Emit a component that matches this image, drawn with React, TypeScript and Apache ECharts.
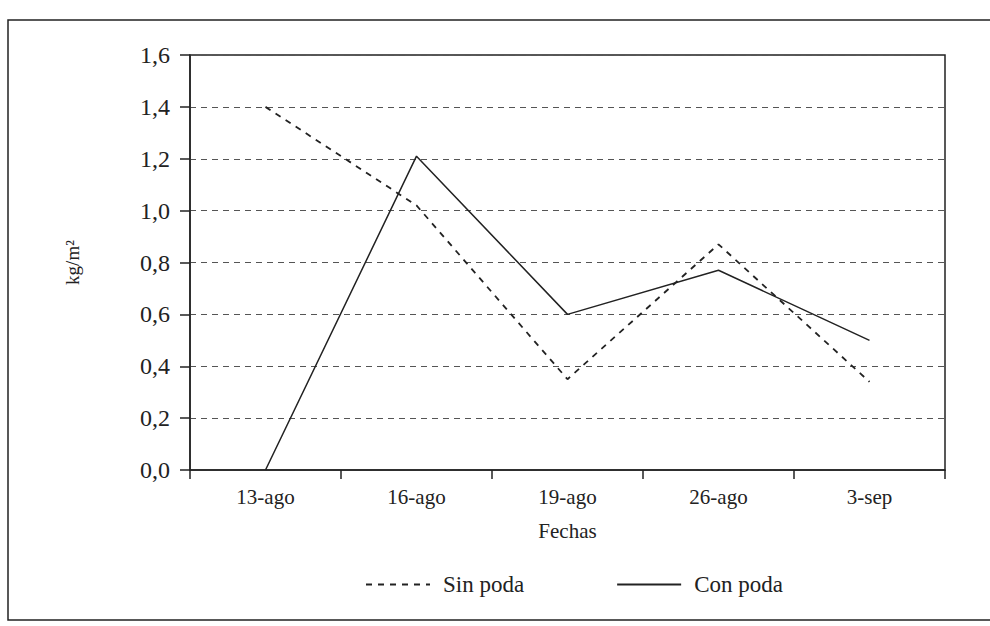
import React, { useEffect, useRef } from "react";
import * as echarts from "echarts";

const categories = ["13-ago", "16-ago", "19-ago", "26-ago", "3-sep"];
const sinPoda = [1.4, 1.02, 0.35, 0.87, 0.34];
const conPoda = [0.0, 1.21, 0.6, 0.77, 0.5];

const FONT = "Liberation Serif";
const INK = "#222";

export default function App() {
  const ref = useRef<HTMLDivElement>(null);
  useEffect(() => {
    if (!ref.current) return;
    const chart = echarts.init(ref.current, undefined, { renderer: "svg" });
    chart.setOption({
      animation: false,
      backgroundColor: "#fff",
      textStyle: { fontFamily: FONT, color: INK },
      graphic: [
        {
          type: "rect",
          shape: { x: 8, y: 20, width: 1000, height: 600 },
          style: { fill: "none", stroke: INK, lineWidth: 1.5 },
          silent: true,
        },
      ],
      grid: {
        left: 190,
        right: 45,
        top: 55,
        bottom: 156,
        show: true,
        borderColor: INK,
        borderWidth: 1.5,
      },
      legend: {
        left: 360,
        top: 568,
        itemWidth: 64,
        itemHeight: 14,
        itemGap: 92,
        itemStyle: { opacity: 0 },
        textStyle: { fontFamily: FONT, fontSize: 23, color: INK, padding: [0, 0, 0, 8] },
        data: ["Sin poda", "Con poda"],
      },
      xAxis: {
        type: "category",
        data: categories,
        boundaryGap: true,
        name: "Fechas",
        nameLocation: "middle",
        nameGap: 50,
        nameTextStyle: { fontFamily: FONT, fontSize: 21, color: INK },
        axisLine: { lineStyle: { color: INK, width: 1.5 } },
        axisTick: { show: true, length: 9, lineStyle: { color: INK, width: 1.5 } },
        axisLabel: { fontFamily: FONT, fontSize: 21, color: INK, margin: 16 },
        splitLine: { show: false },
      },
      yAxis: {
        type: "value",
        min: 0,
        max: 1.6,
        interval: 0.2,
        name: "kg/m²",
        nameLocation: "middle",
        nameGap: 108,
        nameRotate: 90,
        nameTextStyle: { fontFamily: FONT, fontSize: 19, color: INK },
        axisLine: { show: true, lineStyle: { color: INK, width: 1.5 } },
        axisTick: { show: true, length: 10, lineStyle: { color: INK, width: 1.5 } },
        axisLabel: {
          fontFamily: FONT,
          fontSize: 24,
          color: INK,
          margin: 20,
          formatter: (v: number) => v.toFixed(1).replace(".", ","),
        },
        splitLine: {
          show: true,
          lineStyle: { color: "#555", type: [6, 5], width: 1.2 },
        },
      },
      series: [
        {
          name: "Sin poda",
          type: "line",
          data: sinPoda,
          symbol: "none",
          lineStyle: { color: INK, width: 1.8, type: [6, 6] },
          itemStyle: { color: INK },
        },
        {
          name: "Con poda",
          type: "line",
          data: conPoda,
          symbol: "none",
          lineStyle: { color: INK, width: 1.5, type: "solid" },
          itemStyle: { color: INK },
        },
      ],
    });
    return () => chart.dispose();
  }, []);
  return <div ref={ref} style={{ width: 990, height: 626, position: "absolute", left: 0, top: 0 }} />;
}
